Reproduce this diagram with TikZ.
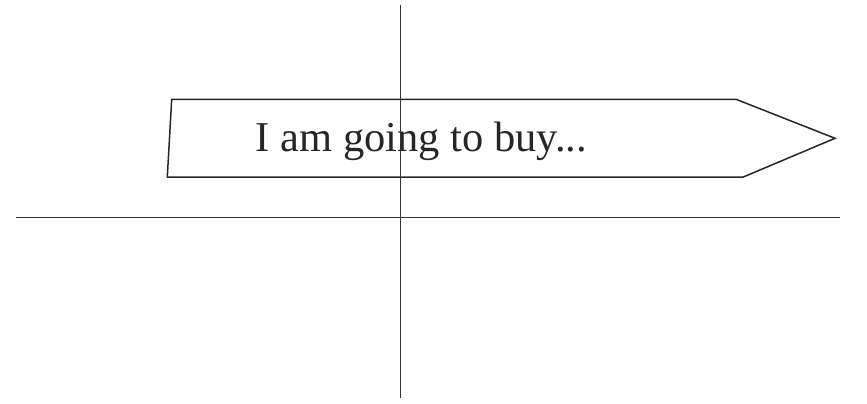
\documentclass[tikz,border=0pt]{standalone}
\usepackage{fontspec}
\setmainfont{Liberation Serif}
\begin{document}
\begin{tikzpicture}[x=1pt,y=-1pt,
  ln/.style={draw=black!80,line width=1.5pt},
  sign/.style={draw=black!85,line width=1.5pt,line join=miter},
  lbl/.style={font=\fontsize{42.5}{42.5}\selectfont,text=black!85,inner sep=0pt,anchor=base}]
\useasboundingbox (0,0) rectangle (867,404);
\coordinate (vt) at (400.7,5);
\coordinate (vb) at (400.7,398);
\coordinate (hl) at (16,217.3);
\coordinate (hr) at (840,217.3);
\coordinate (tl) at (171.7,99.3);
\coordinate (bl) at (167.3,177);
\coordinate (br) at (743.3,177);
\coordinate (tip) at (835,138.3);
\coordinate (tr) at (736,99.3);
\draw[sign] (tl) -- (bl) -- (br) -- (tip) -- (tr) -- cycle;
\node[lbl] (txt) at (421.5,151.7) {I am going to buy...};
\draw[ln] (vt) -- (vb);
\draw[ln] (hl) -- (hr);
\end{tikzpicture}
\end{document}
